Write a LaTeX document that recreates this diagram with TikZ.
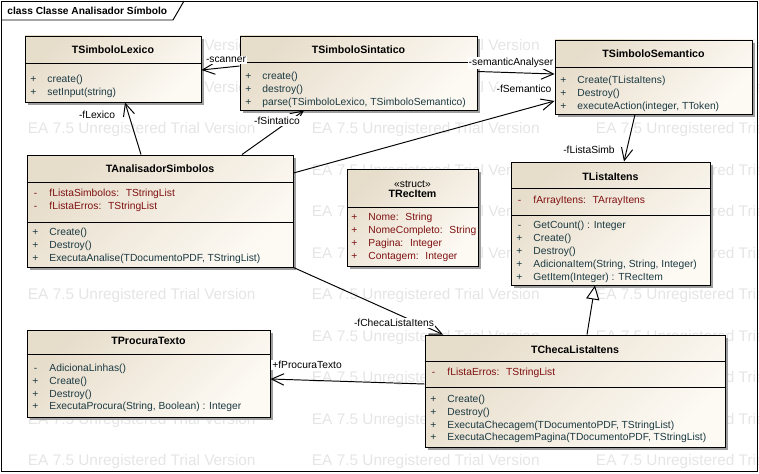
\documentclass[tikz,border=0pt]{standalone}
\usepackage{fontspec}
\setmainfont{Liberation Sans}
\usetikzlibrary{arrows.meta,fit,shadows}
\definecolor{clsA}{RGB}{231,221,203}
\definecolor{clsB}{RGB}{253,250,244}
\definecolor{atrcol}{RGB}{128,18,18}
\definecolor{opcol}{RGB}{28,58,66}
\newcommand{\vis}[2]{\makebox[0.12cm]{#1}\hspace{0.22cm}#2}
\begin{document}
\begin{tikzpicture}[x=0.02cm,y=-0.02cm,line width=0.55pt,
		>={Straight Barb[length=7pt,width=6.5pt]},
		txt/.style={font=\fontsize{5.85}{7.3}\selectfont,inner sep=0},
		ttl/.style={txt,font=\fontsize{6.05}{7.3}\selectfont\bfseries},
		cls/.style={draw,inner sep=0,top color=clsA,bottom color=clsB,shading angle=45,
			drop shadow={shadow xshift=1.8pt,shadow yshift=-1.8pt,fill=black!38,opacity=1}},
		ops/.style={txt,anchor=north west,align=left,text=opcol},
		atr/.style={txt,anchor=north west,align=left,text=atrcol},
		lbl/.style={txt,fill=white,inner sep=0.6pt},
		wm/.style={anchor=base west,inner sep=0,text=black!10,font=\fontsize{8.75}{10}\selectfont}]
		\useasboundingbox (0,0) rectangle (759,473);
		\foreach \r in {0,...,10}
			\foreach \c in {0,1,2}
				\node (w\r\c) [wm] at (27.5+284*\c,50.5+41.5*\r) {EA 7.5 Unregistered Trial Version};
		\draw (1,1) rectangle (757,471);
		\draw (1,20) -- (173,20) -- (184,1);
		\node (tab) [ttl,font=\fontsize{5.8}{7.3}\selectfont\bfseries,anchor=west] at (7,10.5) {class Classe Analisador Símbolo};
		\node (lex) [cls,fit={(25,36) (201,102)}] {};
		\node (lexT) [ttl] at (lex.north |- 0,50) {TSimboloLexico};
		\draw (lex.west |- 0,63) -- (lex.east |- 0,63);
		\node (lexO) [ops] at (30,75) {\vis{+}{create()}\\\vis{+}{setInput(string)}};
		\node (sin) [cls,fit={(240,36) (477,110)}] {};
		\node (sinT) [ttl] at (sin.north |- 0,49.5) {TSimboloSintatico};
		\draw (sin.west |- 0,62) -- (sin.east |- 0,62);
		\node (sinO) [ops] at (245,71.5) {\vis{+}{create()}\\\vis{+}{destroy()}\\\vis{+}{parse(TSimboloLexico, TSimboloSemantico)}};
		\node (sem) [cls,fit={(555,40) (752,114)}] {};
		\node (semT) [ttl] at (sem.north |- 0,54) {TSimboloSemantico};
		\draw (sem.west |- 0,67) -- (sem.east |- 0,67);
		\node (semO) [ops] at (560,76) {\vis{+}{Create(TListaItens)}\\\vis{+}{Destroy()}\\\vis{+}{executeAction(integer, TToken)}};
		\node (ana) [cls,fit={(27,155) (293,267)}] {};
		\node (anaT) [ttl] at (ana.north |- 0,169) {TAnalisadorSimbolos};
		\draw (ana.west |- 0,182) -- (ana.east |- 0,182);
		\node (anaA) [atr] at (32,189) {\vis{-}{fListaSimbolos:~ TStringList}\\\vis{-}{fListaErros:~ TStringList}};
		\draw (ana.west |- 0,222) -- (ana.east |- 0,222);
		\node (anaO) [ops] at (32,228) {\vis{+}{Create()}\\\vis{+}{Destroy()}\\\vis{+}{ExecutaAnalise(TDocumentoPDF, TStringList)}};
		\node (rec) [cls,fit={(347,169) (478,266)}] {};
		\node (recS) [txt] at (rec.north |- 0,184) {«struct»};
		\node (recT) [ttl] at (rec.north |- 0,193.5) {TRecItem};
		\draw (rec.west |- 0,207) -- (rec.east |- 0,207);
		\node (recA) [atr] at (351,213) {\vis{+}{Nome:~ String}\\\vis{+}{NomeCompleto:~ String}\\\vis{+}{Pagina:~ Integer}\\\vis{+}{Contagem:~ Integer}};
		\node (lst) [cls,fit={(511,162) (710,285)}] {};
		\node (lstT) [ttl] at (lst.north |- 0,176.5) {TListaItens};
		\draw (lst.west |- 0,188) -- (lst.east |- 0,188);
		\node (lstA) [atr] at (516,195.5) {\vis{-}{fArrayItens:~ TArrayItens}};
		\draw (lst.west |- 0,215) -- (lst.east |- 0,215);
		\node (lstO) [ops] at (516,221) {\vis{-}{GetCount() : Integer}\\\vis{+}{Create()}\\\vis{+}{Destroy()}\\\vis{+}{AdicionaItem(String, String, Integer)}\\\vis{+}{GetItem(Integer) : TRecItem}};
		\node (proc) [cls,fit={(27,330) (270,417)}] {};
		\node (procT) [ttl] at (proc.north |- 0,341) {TProcuraTexto};
		\draw (proc.west |- 0,354) -- (proc.east |- 0,354);
		\node (procO) [ops] at (32,363.5) {\vis{-}{AdicionaLinhas()}\\\vis{+}{Create()}\\\vis{+}{Destroy()}\\\vis{+}{ExecutaProcura(String, Boolean) : Integer}};
		\node (chk) [cls,fit={(425,335) (725,447)}] {};
		\node (chkT) [ttl] at (chk.north |- 0,349.5) {TChecaListaItens};
		\draw (chk.west |- 0,361) -- (chk.east |- 0,361);
		\node (chkA) [atr] at (430,368) {\vis{-}{fListaErros:~ TStringList}};
		\draw (chk.west |- 0,387) -- (chk.east |- 0,387);
		\node (chkO) [ops] at (430,394.5) {\vis{+}{Create()}\\\vis{+}{Destroy()}\\\vis{+}{ExecutaChecagem(TDocumentoPDF, TStringList)}\\\vis{+}{ExecutaChecagemPagina(TDocumentoPDF, TStringList)}};
		\draw [->] (sin.west |- 0,66) -- (lex.east |- 0,70);
		\draw [->] (sin.east |- 0,71.5) -- (sem.west |- 0,74);
		\draw [->] (ana.north -| 141,0) -- (lex.south -| 125,0);
		\draw [->] (ana.north -| 242,0) -- (sin.south -| 304,0);
		\draw [->] (ana.east |- 0,173) -- (sem.west |- 0,101);
		\draw [->] (sem.south -| 635,0) -- (lst.north -| 624,0);
		\draw [->] (ana.south east) -- (chk.north -| 443,0);
		\draw [->] (chk.west |- 0,384) -- (proc.east |- 0,379);
		\draw [-{Triangle[open,length=8pt,width=7.5pt,fill=white]}] (chk.north -| 587,0) -- (lst.south -| 595,0);
		\node (l1) [lbl] at (226,60) {-scanner};
		\node (l2) [lbl] at (511,63) {-semanticAnalyser};
		\node (l3) [lbl] at (524,89) {-fSemantico};
		\node (l4) [lbl] at (97,115) {-fLexico};
		\node (l5) [lbl] at (277,121) {-fSintatico};
		\node (l6) [lbl] at (589,150) {-fListaSimb};
		\node (l7) [lbl] at (394,323) {-fChecaListaItens};
		\node (l8) [lbl] at (307,365) {+fProcuraTexto};
\end{tikzpicture}
\end{document}
